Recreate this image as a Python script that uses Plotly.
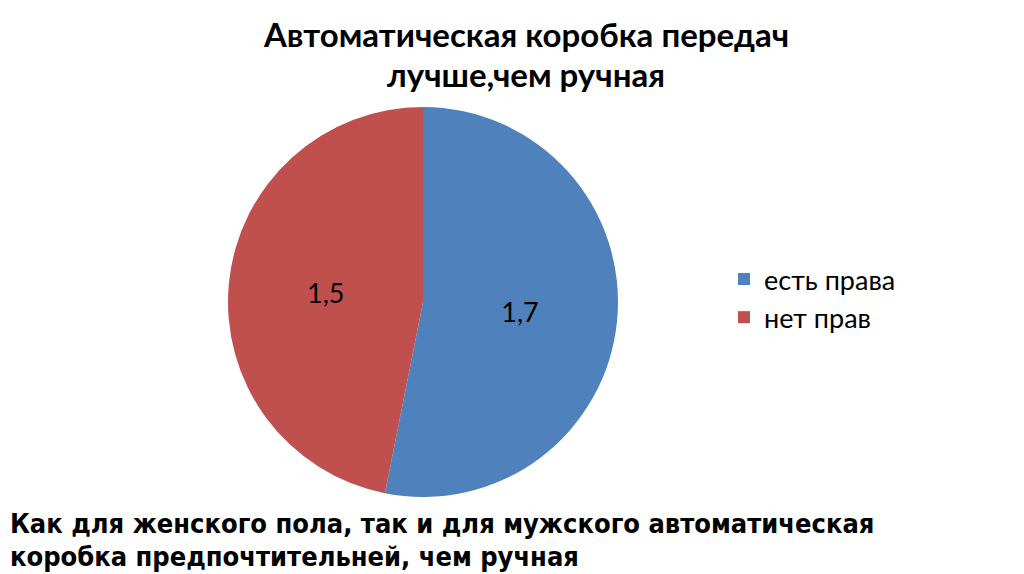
import plotly.graph_objects as go

labels = ["есть права", "нет прав"]
values = [1.7, 1.5]
colors = ["#4F81BD", "#C0504D"]

title_lines = ["Автоматическая коробка передач", "лучше,чем ручная"]
note_lines = ["Как для женского пола, так и для мужского автоматическая",
              "коробка предпочтительней, чем ручная"]

W, H = 1024, 574
cx, cy, r = 415, 294, 195

fig = go.Figure(go.Pie(
    labels=labels, values=values, sort=False, direction="clockwise", rotation=0,
    marker=dict(colors=colors),
    texttemplate="%{value}", textposition="inside", insidetextorientation="horizontal",
    textfont=dict(family="Lato, Carlito, sans-serif", size=27, color="#000000"),
    hoverinfo="label+value",
    domain=dict(x=[(cx - r) / W, (cx + r) / W], y=[(H - cy - r) / H, (H - cy + r) / H]),
))

annotations = []
for i, t in enumerate(title_lines):
    annotations.append(dict(text=f"<b>{t}</b>", x=518 / W, y=1 - (26 + 40 * i) / H,
                            xref="paper", yref="paper", xanchor="center", yanchor="middle",
                            showarrow=False,
                            font=dict(family="Lato, Open Sans, sans-serif", size=33, color="#000")))
for i, t in enumerate(note_lines):
    annotations.append(dict(text=f"<b>{t}</b>", x=0, y=1 - (515 + 33 * i) / H,
                            xref="paper", yref="paper", xanchor="left", yanchor="middle",
                            showarrow=False,
                            font=dict(family="DejaVu Sans Condensed, Liberation Sans Narrow, sans-serif",
                                      size=27, color="#000")))

fig.update_layout(
    width=W, height=H, margin=dict(l=0, r=0, t=0, b=0),
    paper_bgcolor="white", plot_bgcolor="white",
    separators=", ",
    showlegend=True,
    legend=dict(x=716 / W, y=1 - 247 / H, xanchor="left", yanchor="top",
                font=dict(family="Lato, Carlito, sans-serif", size=27, color="#000"),
                itemsizing="constant", tracegroupgap=0),
    annotations=annotations,
)

fig.write_html("out.html")
